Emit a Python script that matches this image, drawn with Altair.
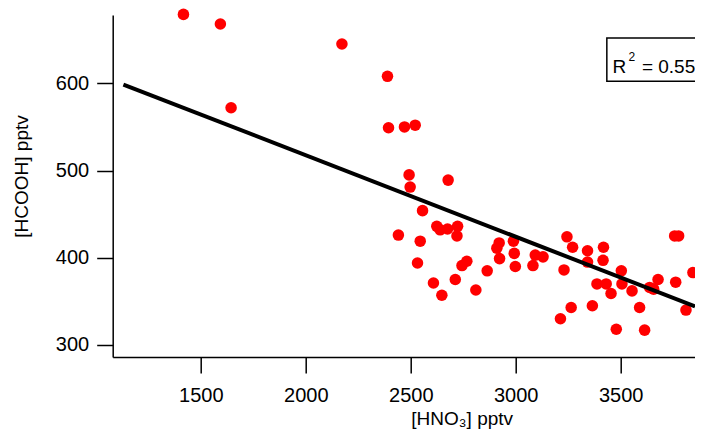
import altair as alt
import pandas as pd

# Scatter data ([HNO3] vs [HCOOH], pptv)
hno3 = [1417, 1593, 1644, 2172, 2389, 2394, 2470, 2521, 2492, 2497, 2678, 2556,
        2441, 2545, 2624, 2640, 2675, 2723, 2720, 2532, 2608, 2648, 2712, 2744,
        2767, 2810, 2864, 2910, 2921, 2923, 2989, 2993, 2998, 3093, 3082, 3130,
        3244, 3271, 3230, 3342, 3418, 3342, 3416, 3387, 3431, 3454, 3503, 3506,
        3554, 3638, 3657, 3678, 3762, 3844, 3757, 3776, 3264, 3213, 3365, 3479,
        3590, 3614, 3811]
hcooh = [679, 668, 572, 645, 608, 549, 550, 552, 495, 481, 489, 454,
         426, 419, 436, 432, 433, 436, 425, 394, 371, 357, 375, 391,
         396, 363, 385, 411, 417, 399, 419, 405, 390, 403, 391, 401,
         424, 412, 386, 408, 412, 395, 397, 370, 370, 359, 385, 370,
         362, 366, 364, 375, 372, 383, 425, 425, 343, 330, 345, 318,
         343, 317, 340]

# Fit line end points
fit_x = [1131, 3854]
fit_y = [598.6, 344.3]

# Axis settings
x_domain = [1080, 3854]
y_domain = [286.2, 678.3]
x_ticks = [1500, 2000, 2500, 3000, 3500]
y_ticks = [300, 400, 500, 600]

# R^2 annotation box (data units)
box_x = [3434, 3935]
box_y = [602.3, 651.9]
r_label_x = [3461, 3537, 3601]
r_label_y = [611.8, 625.2, 611.8]
r_label_text = ["R", "2", "= 0.55"]
r_label_size = [19, 12, 19]

FONT = "Liberation Sans"

pts = pd.DataFrame({"x": hno3, "y": hcooh})
fit = pd.DataFrame({"x": fit_x, "y": fit_y})
box = pd.DataFrame({"x": [box_x[0]], "x2": [box_x[1]], "y": [box_y[0]], "y2": [box_y[1]]})
lab = pd.DataFrame({"x": r_label_x, "y": r_label_y, "t": r_label_text, "s": r_label_size})

xs = alt.Scale(domain=x_domain, nice=False, zero=False)
ys = alt.Scale(domain=y_domain, nice=False, zero=False)

xaxis = alt.Axis(values=x_ticks, format="d", title="[HNO₃] pptv",
                 titleX=349, titleY=67, titleAlign="center", titleBaseline="alphabetic",
                 labelPadding=12, tickSize=16)
yaxis = alt.Axis(values=y_ticks, format="d", title="[HCOOH] pptv",
                 titleX=-85, titleY=161, titleAngle=-90, titleAlign="center",
                 titleBaseline="alphabetic", labelPadding=8, tickSize=16)

points = alt.Chart(pts).mark_circle(size=133, color="#ff0000", opacity=1).encode(
    x=alt.X("x:Q", scale=xs, axis=xaxis),
    y=alt.Y("y:Q", scale=ys, axis=yaxis),
)

line = alt.Chart(fit).mark_line(color="black", strokeWidth=4, clip=True).encode(
    x=alt.X("x:Q", scale=xs),
    y=alt.Y("y:Q", scale=ys),
)

rect = alt.Chart(box).mark_rect(fill="white", stroke="black", strokeWidth=1.5).encode(
    x=alt.X("x:Q", scale=xs), x2="x2:Q",
    y=alt.Y("y:Q", scale=ys), y2="y2:Q",
)

text = alt.Chart(lab).mark_text(align="left", baseline="alphabetic", font=FONT, color="black").encode(
    x=alt.X("x:Q", scale=xs),
    y=alt.Y("y:Q", scale=ys),
    text="t:N",
    size=alt.Size("s:Q", scale=None, legend=None),
)

chart = alt.layer(points, line, rect, text).properties(
    width=582.3, height=342,
    autosize=alt.AutoSizeParams(type="none"),
    padding={"left": 104.7, "top": 7, "right": 0, "bottom": 73},
).configure_view(stroke=None).configure_axis(
    grid=False,
    domainColor="black", domainWidth=1.5,
    tickColor="black", tickWidth=1.5,
    labelColor="black", labelFont=FONT, labelFontSize=20,
    titleColor="black", titleFont=FONT, titleFontSize=19, titleFontWeight="normal",
)

chart.save("out.html", embed_options={"renderer": "svg", "actions": False})
